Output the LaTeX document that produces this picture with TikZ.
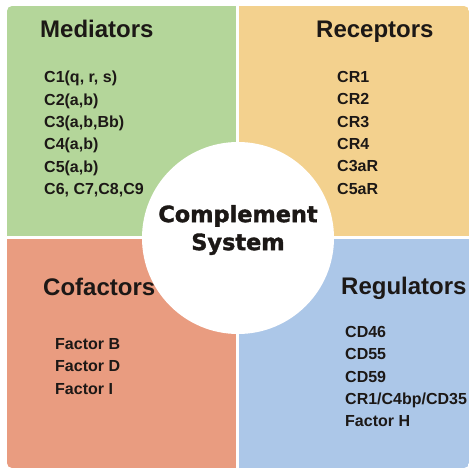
\documentclass[tikz,border=0pt]{standalone}
\usepackage{fontspec}
\setmainfont{Liberation Sans}
\newfontfamily\corefont[BoldFeatures={FakeBold=1.6}]{DejaVu Sans}
\definecolor{med_green}{RGB}{180, 214, 154}
\definecolor{rec_yellow}{RGB}{243, 209, 142}
\definecolor{cof_red}{RGB}{233, 156, 128}
\definecolor{reg_blue}{RGB}{172, 199, 232}
\definecolor{txt_dark}{RGB}{28, 24, 22}
\tikzstyle{title}=[anchor=base west,inner sep=0pt,text=txt_dark,
  font=\bfseries\fontsize{24}{28}\selectfont]
\tikzstyle{items}=[anchor=north west,inner sep=0pt,align=left,text=txt_dark,
  font=\bfseries\fontsize{16}{22.4}\selectfont]
\tikzstyle{core}=[circle,fill=white,inner sep=0pt,minimum size=192pt]
\tikzstyle{coretext}=[align=center,inner sep=0pt,text=txt_dark,
  font=\corefont\bfseries\fontsize{22.4}{28}\selectfont]
\begin{document}
\begin{tikzpicture}[x=1pt,y=-1pt]
    \useasboundingbox (0,0) rectangle (474,474);
    % four quarters, only the outer corners rounded
    \begin{scope}
        \clip [rounded corners=5pt] (7,6) rectangle (469,468);
        \fill [med_green] (7,6) rectangle (236,236);
        \fill [rec_yellow] (239,6) rectangle (469,236);
        \fill [cof_red] (7,239) rectangle (236,468);
        \fill [reg_blue] (239,239) rectangle (469,468);
    \end{scope}
    \node [style=core] (hub) at (238,238) {};
    \node [style=coretext] (hubtext) at (238,230) {Complement\\System};
    \node [style=title] (med) at (40,37) {Mediators};
    \node [style=title] (rec) at (316,37) {Receptors};
    \node [style=title] (cof) at (43,295) {Cofactors};
    \node [style=title] (reg) at (341,294) {Regulators};
    \node [style=items] (medlist) at (44,71) {C1(q, r, s)\\C2(a,b)\\C3(a,b,Bb)\\C4(a,b)\\C5(a,b)\\C6, C7,C8,C9};
    \node [style=items] (reclist) at (337,71) {CR1\\CR2\\CR3\\CR4\\C3aR\\C5aR};
    \node [style=items] (coflist) at (55,338) {Factor B\\Factor D\\Factor I};
    \node [style=items] (reglist) at (345,326) {CD46\\CD55\\CD59\\CR1/C4bp/CD35\\Factor H};
\end{tikzpicture}
\end{document}
